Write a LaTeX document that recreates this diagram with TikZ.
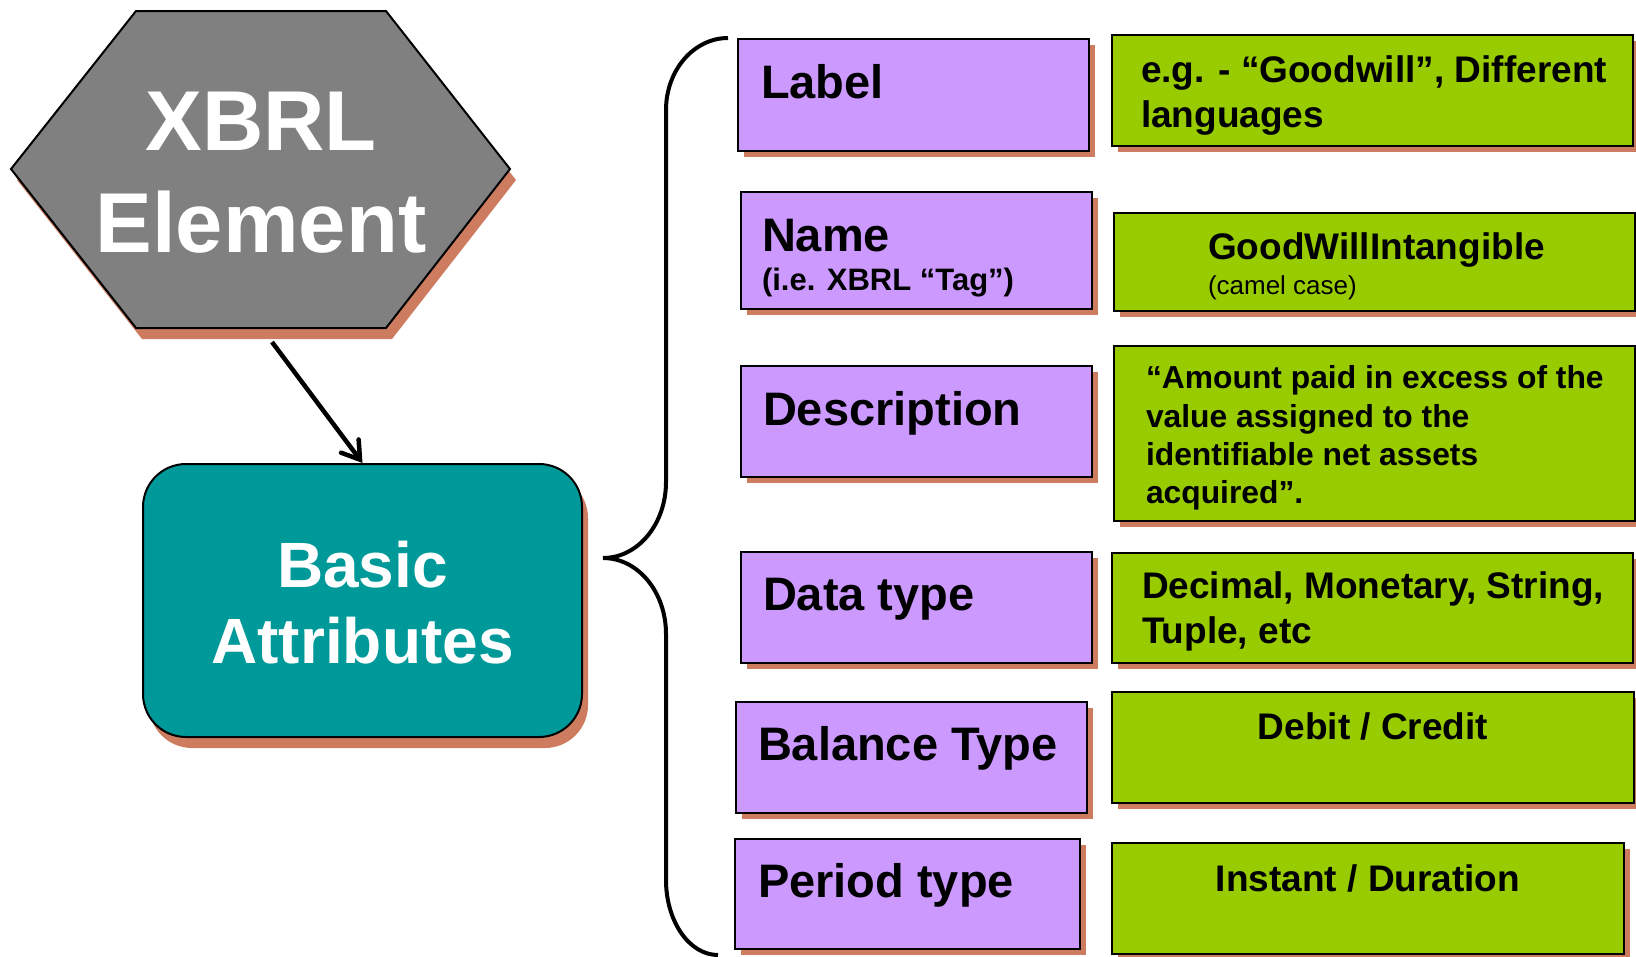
\documentclass[tikz,border=0pt]{standalone}
\usepackage{fontspec}
\setmainfont{Liberation Sans}
\usetikzlibrary{shadows,arrows.meta}
\definecolor{shadowc}{RGB}{205,124,96}
\definecolor{purplebox}{RGB}{204,153,255}
\definecolor{greenbox}{RGB}{153,204,0}
\definecolor{tealbox}{RGB}{0,153,153}
\definecolor{hexgray}{RGB}{128,128,128}
\newcommand\fsz[2]{\fontsize{#1}{#2}\selectfont}
\begin{document}
\begin{tikzpicture}[x=1pt,y=-1pt,
  box/.style={draw=black, line width=2pt, inner sep=0pt, outer sep=0pt,
    drop shadow={shadow xshift=6pt, shadow yshift=-6pt, fill=shadowc, opacity=1}},
  pbox/.style={box, fill=purplebox},
  gbox/.style={box, fill=greenbox},
  txt/.style={inner sep=0pt, outer sep=0pt, text=black},
  ptext/.style={txt, anchor=base west, font=\bfseries\fsz{47}{56}},
  psub/.style={txt, anchor=base west, font=\bfseries\fsz{31}{37}},
  gtext/.style={txt, anchor=base west, font=\bfseries\fsz{37}{45}},
  gctext/.style={txt, anchor=base, font=\bfseries\fsz{37}{45}},
  dtext/.style={txt, anchor=base west, font=\bfseries\fsz{31.8}{38}},
  ctext/.style={txt, anchor=base west, font=\fsz{26}{31}},
  wtext/.style={inner sep=0pt, anchor=base, text=white},
  arrowline/.style={line width=4.5pt, -{Straight Barb[length=17pt,width=22pt,line cap=round]}},
  braceline/.style={line width=4pt}
]
\path[use as bounding box, fill=white] (0,0) rectangle (1636,956);

% Hexagon
\fill[shadowc, shift={(6,11)}] (136,11) -- (386,11) -- (510,169) -- (386,328) -- (136,328) -- (11,169) -- cycle;
\draw[fill=hexgray, line width=2pt, line join=miter] (136,11) -- (386,11) -- (510,169) -- (386,328) -- (136,328) -- (11,169) -- cycle;
\node[wtext, font=\bfseries\fsz{85}{102}] (xbrl1) at (261,150) {XBRL};
\node[wtext, font=\bfseries\fsz{85}{102}] (xbrl2) at (261,252) {Element};
\coordinate (hexout) at (272,342);

% Basic attributes
\node[draw=black, line width=2pt, fill=tealbox, rounded corners=43pt, inner sep=0pt,
  minimum width=439, minimum height=273,
  drop shadow={shadow xshift=6pt, shadow yshift=-11pt, fill=shadowc, opacity=1}] (basic) at (362.5,600.5) {};
\node[wtext, font=\bfseries\fsz{64}{76}] (basic1) at (362.5,587) {Basic};
\node[wtext, font=\bfseries\fsz{64}{76}] (basic2) at (362.5,663) {Attributes};

\draw[arrowline] (hexout) -- (basic.north);

% Brace
\draw[braceline] (728,38) .. controls (694,38) and (666,70) .. (666,110)
  -- (666,482) .. controls (666,524) and (638,558) .. (603,558)
  .. controls (638,558) and (666,592) .. (666,634)
  -- (666,880) .. controls (666,921) and (689,955) .. (718,955);

% Purple boxes
\node[pbox, minimum width=351, minimum height=112] (p1) at (913.5,95) {};
\node[pbox, minimum width=351, minimum height=117] (p2) at (916.5,250.5) {};
\node[pbox, minimum width=351, minimum height=111] (p3) at (916.5,421.5) {};
\node[pbox, minimum width=351, minimum height=111] (p4) at (916.5,607.5) {};
\node[pbox, minimum width=351, minimum height=111] (p5) at (911.5,757.5) {};
\node[pbox, minimum width=345, minimum height=110] (p6) at (907.5,894) {};

\node[ptext] (t1) at (761,98) {Label};
\node[ptext] (t2) at (762,251) {Name};
\node[psub] (t2b) at (762,290) {(i.e. XBRL “Tag”)};
\node[ptext] (t3) at (763,425) {Description};
\node[ptext] (t4) at (763,610) {Data type};
\node[ptext] (t5) at (758,760) {Balance Type};
\node[ptext] (t6) at (758,897) {Period type};

% Green boxes
\node[gbox, minimum width=521, minimum height=111] (g1) at (1372.5,90.5) {};
\node[gbox, minimum width=521, minimum height=98] (g2) at (1374.5,262) {};
\node[gbox, minimum width=521, minimum height=175] (g3) at (1374.5,433.5) {};
\node[gbox, minimum width=521, minimum height=110] (g4) at (1372.5,608) {};
\node[gbox, minimum width=522, minimum height=111] (g5) at (1373,747.5) {};
\node[gbox, minimum width=512, minimum height=111] (g6) at (1368,898.5) {};

\node[gtext] (v1a) at (1141,82) {e.g. - “Goodwill”, Different};
\node[gtext] (v1b) at (1141,127) {languages};
\node[gtext] (v2a) at (1208,259) {GoodWillIntangible};
\node[ctext] (v2b) at (1208,294) {(camel case)};
\node[dtext] (v3a) at (1146,388) {“Amount paid in excess of the};
\node[dtext] (v3b) at (1146,427) {value assigned to the};
\node[dtext] (v3c) at (1146,465) {identifiable net assets};
\node[dtext] (v3d) at (1146,503) {acquired”.};
\node[gtext] (v4a) at (1142,598) {Decimal, Monetary, String,};
\node[gtext] (v4b) at (1142,643) {Tuple, etc};
\node[gctext] (v5) at (1373,739) {Debit / Credit};
\node[gctext] (v6) at (1368,891) {Instant / Duration};
\end{tikzpicture}
\end{document}
